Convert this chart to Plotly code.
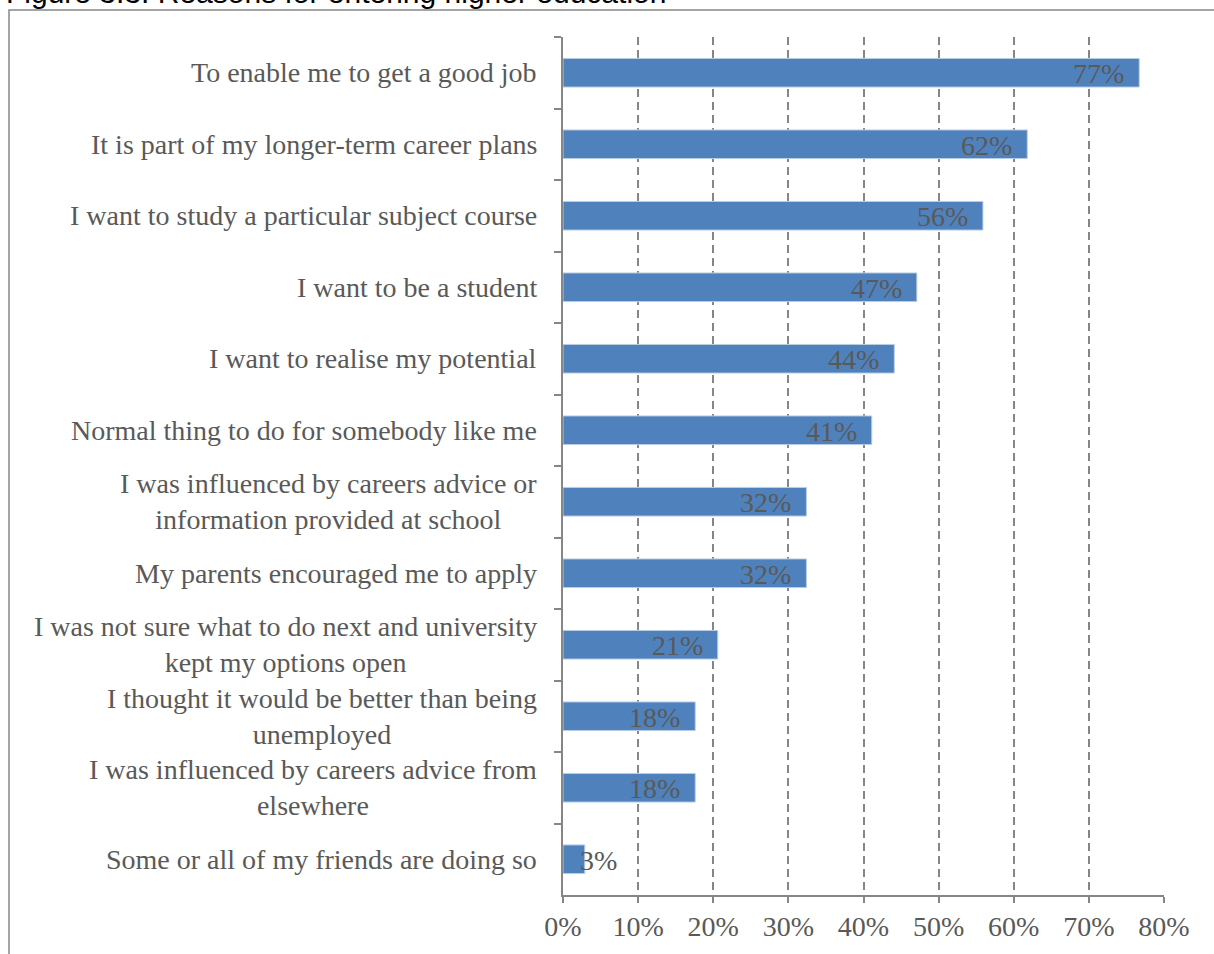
import plotly.graph_objects as go

categories = [
    "To enable me to get a good job",
    "It is part of my longer-term career plans",
    "I want to study a particular subject course",
    "I want to be a student",
    "I want to realise my potential",
    "Normal thing to do for somebody like me",
    "I was influenced by careers advice or<br>information provided at school",
    "My parents encouraged me to apply",
    "I was not sure what to do next and university<br>kept my options open",
    "I thought it would be better than being<br>unemployed",
    "I was influenced by careers advice from<br>elsewhere",
    "Some or all of my friends are doing so",
]
values = [76.7, 61.8, 55.9, 47.1, 44.1, 41.1, 32.4, 32.4, 20.6, 17.6, 17.6, 2.9]
value_labels = ["77%", "62%", "56%", "47%", "44%", "41%", "32%", "32%", "21%", "18%", "18%", "3%"]
x_ticks = [0, 10, 20, 30, 40, 50, 60, 70, 80]
x_tick_labels = ["0%", "10%", "20%", "30%", "40%", "50%", "60%", "70%", "80%"]
title_text = "Figure 3.3: Reasons for entering higher education"

W, H = 1214, 954
ML, MR, MT, MB = 563, 50, 37, 56
PW = W - ML - MR
PH = H - MT - MB

def px_x(p):
    return (p - ML) / PW

def px_y(p):
    return (H - MB - p) / PH

SERIF = "Liberation Serif"
GREY = "#595959"
AXIS = "#868686"
FS = 28

fig = go.Figure()
fig.add_trace(go.Bar(
    x=values, y=categories, orientation="h",
    marker=dict(color="#4F81BD", line=dict(color="#B9CDE5", width=1)),
    hoverinfo="x+y",
))

annotations = []
for c in categories:
    annotations.append(dict(
        x=px_x(539), xref="paper", y=c, yref="y", text=c, showarrow=False,
        xanchor="right", yanchor="middle", align="center",
        font=dict(family=SERIF, size=FS, color=GREY),
    ))
for c, v, t in zip(categories, values, value_labels):
    if v >= 8:
        annotations.append(dict(
            x=v, xref="x", y=c, yref="y", text=t, showarrow=False,
            xanchor="right", yanchor="middle", xshift=-13, yshift=-1,
            font=dict(family=SERIF, size=FS, color=GREY),
        ))
    else:
        annotations.append(dict(
            x=0, xref="x", y=c, yref="y", text=t, showarrow=False,
            xanchor="left", yanchor="middle", xshift=15, yshift=-1,
            font=dict(family=SERIF, size=FS, color=GREY),
        ))
annotations.append(dict(
    x=px_x(4), xref="paper", y=px_y(11), yref="paper", text=title_text,
    showarrow=False, xanchor="left", yanchor="bottom",
    font=dict(family="Liberation Sans", size=30, color="#000000"),
))

fig.update_layout(
    width=W, height=H,
    margin=dict(l=ML, r=MR, t=MT, b=MB, pad=0),
    paper_bgcolor="white", plot_bgcolor="white",
    bargap=0.6,
    showlegend=False,
    annotations=annotations,
    shapes=[dict(
        type="rect", xref="paper", yref="paper",
        x0=px_x(9), x1=px_x(1300), y0=px_y(1100), y1=px_y(10),
        line=dict(color="#888888", width=1.5), layer="below",
    )],
)
fig.update_xaxes(
    range=[0, 80], tickmode="array", tickvals=x_ticks, ticktext=x_tick_labels,
    showgrid=True, gridcolor=AXIS, gridwidth=1.5, griddash="8px,5px",
    zeroline=False, showline=True, linecolor=AXIS, linewidth=1.5,
    ticks="outside", ticklen=6, tickcolor=AXIS, tickwidth=1.5,
    tickfont=dict(family=SERIF, size=FS, color=GREY),
    fixedrange=True,
)
fig.update_yaxes(
    type="category", categoryorder="array", categoryarray=categories,
    autorange="reversed", showticklabels=False,
    showgrid=False, zeroline=False, showline=True, linecolor=AXIS, linewidth=1.5,
    ticks="outside", tickson="boundaries", ticklen=7, tickcolor=AXIS, tickwidth=1.5,
    fixedrange=True,
)

fig.write_html("out.html", config={"displayModeBar": False},
               post_script="document.body.style.margin='0px';")
